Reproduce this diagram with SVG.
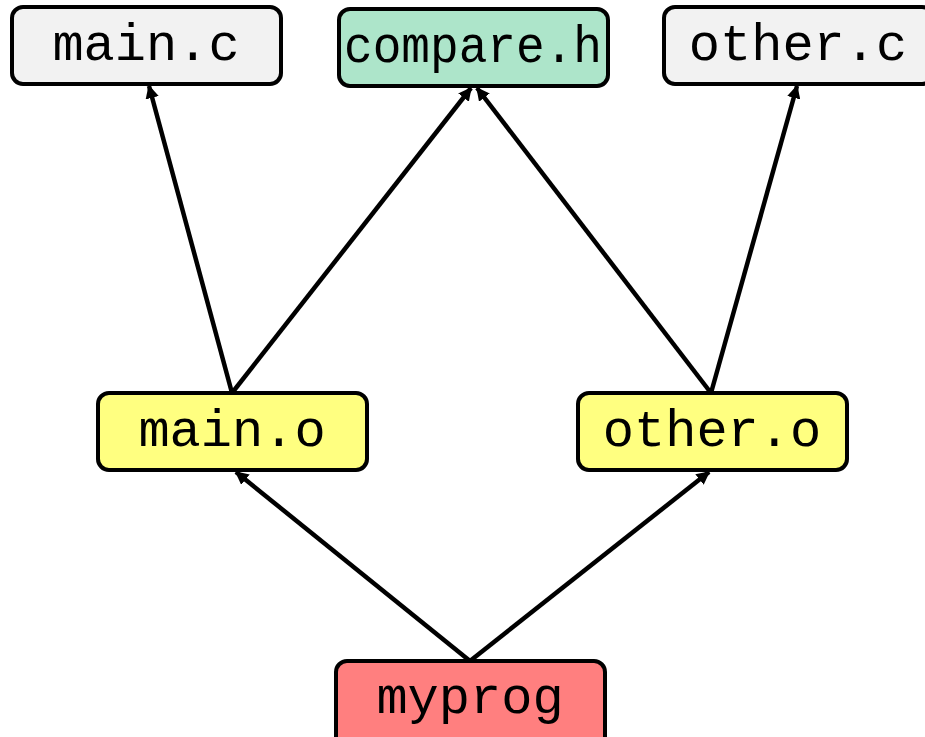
<svg xmlns="http://www.w3.org/2000/svg" width="925" height="737" viewBox="0 0 925 737">
<style>
.box{stroke:#000;stroke-width:4}
.lbl{font-family:"Liberation Mono","Courier New",monospace;font-size:52px;fill:#000;text-anchor:middle}
.edge{stroke:#000;stroke-width:4.5;fill:none;marker-end:url(#ah)}
</style>
<defs>
<marker id="ah" viewBox="0 0 10 10" refX="9" refY="5" markerWidth="3" markerHeight="3" orient="auto" markerUnits="strokeWidth">
<path d="M0,0 L10,5 L0,10 z" fill="#000"/>
</marker>
</defs>
<g id="connectors">
<line class="edge" x1="232" y1="393" x2="149" y2="86"/>
<line class="edge" x1="232" y1="393" x2="471" y2="88"/>
<line class="edge" x1="711" y1="393" x2="477" y2="88"/>
<line class="edge" x1="711" y1="393" x2="797" y2="86"/>
<line class="edge" x1="470" y1="661" x2="236" y2="472"/>
<line class="edge" x1="470" y1="661" x2="709" y2="472"/>
</g>
<g id="main_c">
<rect class="box" x="12" y="7" width="269" height="77" rx="11" fill="#f2f2f2"/>
<text class="lbl" x="146" y="60">main.c</text>
</g>
<g id="compare_h">
<rect class="box" x="339" y="9" width="269" height="77" rx="11" fill="#ade5ca"/>
<text class="lbl" x="473" y="62" textLength="258" lengthAdjust="spacingAndGlyphs">compare.h</text>
</g>
<g id="other_c">
<rect class="box" x="664" y="7" width="269" height="77" rx="11" fill="#f2f2f2"/>
<text class="lbl" x="798" y="60">other.c</text>
</g>
<g id="main_o">
<rect class="box" x="98" y="393" width="269" height="77" rx="11" fill="#ffff80"/>
<text class="lbl" x="232" y="446">main.o</text>
</g>
<g id="other_o">
<rect class="box" x="578" y="393" width="269" height="77" rx="11" fill="#ffff80"/>
<text class="lbl" x="712" y="446">other.o</text>
</g>
<g id="myprog">
<rect class="box" x="336" y="661" width="269" height="90" rx="11" fill="#ff7f7f"/>
<text class="lbl" x="470" y="713">myprog</text>
</g>
</svg>
